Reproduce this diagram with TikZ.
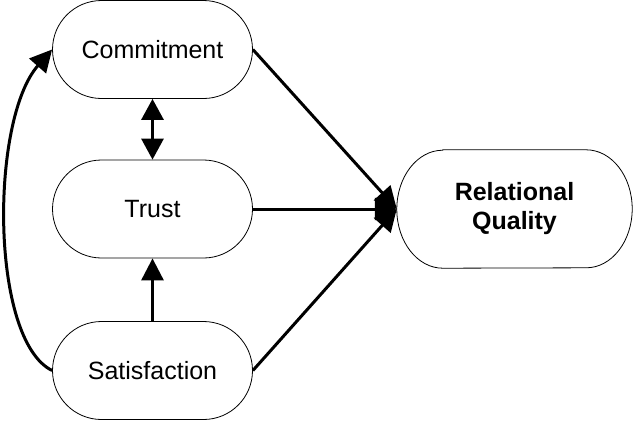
\documentclass[tikz,border=0pt]{standalone}
\usepackage{fontspec}
\setmainfont{Liberation Sans}
\usetikzlibrary{arrows.meta}
\begin{document}
\begin{tikzpicture}[x=1pt,y=-1pt,
  box/.style={draw,line width=0.8pt,minimum width=200pt,minimum height=98pt,
    rounded corners=49pt,inner sep=0pt,align=center,
    font=\fontsize{25}{29}\selectfont},
  rqbox/.style={minimum width=235pt,minimum height=118pt,inner sep=0pt,align=center,
    font=\fontsize{25}{29}\selectfont\bfseries},
  conn/.style={line width=3pt,-{Triangle[width=22pt,length=22pt]}},
  dconn/.style={line width=3pt,{Triangle[width=22pt,length=21pt]}-{Triangle[width=22pt,length=21pt]}}]
\useasboundingbox (0,0) rectangle (634,421);
\node[box] (com) at (152.5,49.5) {Commitment};
\node[box] (tru) at (152.5,209) {Trust};
\node[box] (sat) at (152.5,370.5) {Satisfaction};
\node[rqbox] (rq) at (514.5,209) {Relational\\Quality};
\draw[line width=0.8pt]
  ([xshift=46pt]rq.north west) -- ([xshift=-46pt]rq.north east)
  arc[start angle=90,end angle=-90,x radius=46pt,y radius=59pt]
  -- ([xshift=46pt]rq.south west)
  arc[start angle=270,end angle=90,x radius=46pt,y radius=59pt] -- cycle;
\draw[dconn] (com.south) -- (tru.north);
\draw[conn] (sat.north) -- (tru.south);
\draw[conn] (com.east) -- (rq.west);
\draw[conn] (tru.east) -- (rq.west);
\draw[conn] (sat.east) -- (rq.west);
\draw[conn] (sat.west) .. controls (-10,340) and (-10,120) .. (com.west);
\end{tikzpicture}
\end{document}
